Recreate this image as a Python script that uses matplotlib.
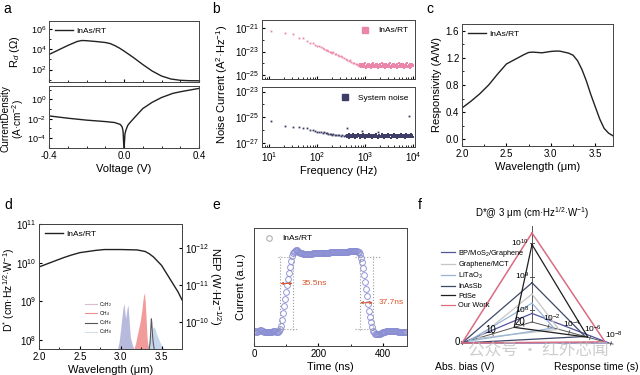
import numpy as np
import matplotlib
matplotlib.use("Agg")
import matplotlib.pyplot as plt
from matplotlib.ticker import LogLocator, NullFormatter, MultipleLocator
from matplotlib.lines import Line2D

plt.rcParams['font.family'] = ['Liberation Sans', 'DejaVu Sans']
plt.rcParams['mathtext.fontset'] = 'custom'
plt.rcParams['mathtext.rm'] = 'Liberation Sans'
plt.rcParams['mathtext.it'] = 'Liberation Sans:italic'
plt.rcParams['mathtext.bf'] = 'Liberation Sans:bold'
plt.rcParams['xtick.direction'] = 'in'
plt.rcParams['ytick.direction'] = 'in'
plt.rcParams['axes.linewidth'] = 0.7
plt.rcParams['axes.edgecolor'] = '#444444'
plt.rcParams['xtick.labelsize'] = 7
plt.rcParams['ytick.labelsize'] = 7
plt.rcParams['xtick.major.size'] = 2.5
plt.rcParams['ytick.major.size'] = 2.5
plt.rcParams['xtick.minor.size'] = 1.5
plt.rcParams['ytick.minor.size'] = 1.5
plt.rcParams['xtick.major.pad'] = 2
plt.rcParams['ytick.major.pad'] = 2

# ---------------- data ----------------
# (a) differential resistance and current density vs voltage
V_rd = [-0.4, -0.35, -0.3, -0.25, -0.225, -0.2, -0.15, -0.1, -0.075, -0.05, -0.025, 0.0,
        0.05, 0.1, 0.15, 0.2, 0.25, 0.3, 0.35, 0.4]
logRd = [3.5, 3.95, 4.4, 4.8, 4.9, 4.88, 4.8, 4.7, 4.6, 4.4, 4.15, 3.85,
         3.2, 2.5, 1.85, 1.35, 1.05, 0.92, 0.88, 0.87]
V_j = [-0.4, -0.3, -0.2, -0.1, -0.05, -0.02, -0.01, -0.005, 0.0, 0.005, 0.01, 0.02,
       0.03, 0.06, 0.1, 0.15, 0.2, 0.26, 0.3, 0.4]
logJ = [-1.71, -1.95, -2.15, -2.3, -2.4, -2.6, -2.85, -3.3, -5.3, -3.6, -3.2, -2.7,
        -2.45, -1.8, -0.95, -0.3, 0.2, 0.63, 0.8, 1.15]

# (b) noise spectra
f_low = [11, 21, 31, 41, 51, 61, 71, 81, 91, 101, 111, 121, 131, 141, 151, 161, 171, 181, 191,
         201, 211, 231, 251, 271, 291, 311, 331, 361, 391, 421, 451, 481, 511, 551, 591, 631,
         671, 711, 751]
noise_dev_low = [-21.2, -21.45, -21.5, -21.8, -21.85, -22.1, -22.3, -22.25, -22.4, -22.5, -22.55,
                 -22.6, -22.7, -22.75, -22.85, -22.9, -22.95, -23.0, -23.05, -23.1, -23.05, -23.2,
                 -23.25, -23.3, -23.4, -23.35, -23.5, -23.55, -23.6, -23.7, -23.8, -23.75, -23.9,
                 -23.95, -24.0, -24.1, -24.05, -24.15, -24.2]
noise_dev_floor = [
    -24.2, -24.1, -24.3, -24.15, -24.25, -24.05, -24.35, -24.2, -24.1, -24.3,
    -24.25, -24.0, -24.2, -24.4, -24.15, -24.25, -24.1, -24.3, -24.2, -24.05,
    -24.35, -24.15, -24.25, -24.2, -24.4, -24.1, -24.2, -24.3, -24.0, -24.25,
    -24.15, -24.35, -24.2, -24.1, -24.3, -24.25, -24.05, -24.2, -24.45, -24.15,
    -24.3, -24.2, -24.1, -24.25, -24.35, -24.0, -24.2, -24.3, -24.15, -24.25,
    -24.1, -24.4, -24.2, -24.3, -24.05, -24.25, -24.15, -24.35, -24.2, -24.1,
    -24.3, -24.2, -24.0, -24.25, -24.4, -24.15, -24.2, -24.3, -24.1, -24.25,
    -24.35, -24.05, -24.2, -24.3, -24.15, -24.25, -24.1, -24.4, -24.2, -24.3,
    -24.0, -24.25, -24.15, -24.35, -24.2, -24.1, -24.3, -24.25, -24.05, -24.2,
    -24.4, -24.15, -24.3, -24.2, -24.1, -24.25, -24.35, -24.0, -24.2, -24.3,
    -24.15, -24.25, -24.1, -24.4, -24.2, -24.3, -24.05, -24.25, -24.15, -24.2]
f_sys_low = [11, 21, 31, 41, 51, 61, 71, 81, 91, 101, 111, 121, 131, 141, 151, 161, 171, 181, 191,
             201, 211, 231, 251, 271, 291, 311, 331, 361, 391]
noise_sys_low = [-25.3, -25.65, -25.72, -25.78, -25.85, -25.85, -25.95, -25.95, -26.05, -26.1,
                 -26.1, -26.15, -26.2, -26.15, -26.25, -26.25, -26.3, -26.3, -26.3, -26.35,
                 -26.3, -26.35, -26.4, -26.35, -26.4, -26.45, -26.4, -26.45, -26.4]
noise_sys_floor = [
    -26.45, -26.35, -26.55, -26.4, -26.5, -26.3, -26.6, -26.45, -26.35, -26.5,
    -26.55, -26.4, -26.45, -26.3, -26.5, -26.6, -26.4, -26.45, -26.35, -26.55,
    -26.5, -26.4, -26.3, -26.45, -26.6, -26.35, -26.5, -26.45, -26.4, -26.55,
    -26.3, -26.45, -26.5, -26.4, -26.6, -26.35, -26.45, -26.55, -26.4, -26.5,
    -26.45, -26.3, -26.55, -26.4, -26.5, -26.35, -26.6, -26.45, -26.4, -26.5,
    -26.35, -26.55, -26.45, -26.4, -26.3, -26.5, -26.45, -26.6, -26.4, -26.35,
    -26.5, -26.45, -26.55, -26.3, -26.4, -26.5, -26.45, -26.35, -26.6, -26.4,
    -26.45, -26.5, -26.35, -26.55, -26.4, -26.3, -26.5, -26.45, -26.4, -26.6,
    -26.35, -26.45, -26.5, -26.4, -26.55, -26.3, -26.45, -26.5, -26.4, -26.35,
    -26.6, -26.45, -26.4, -26.5, -26.35, -26.55, -26.45, -26.3, -26.5, -26.4,
    -26.45, -26.55, -26.35, -26.5, -26.4, -26.6, -26.45, -26.3, -26.5, -26.4,
    -26.35, -26.55, -26.45, -26.4, -26.5, -26.3, -26.45, -26.55, -26.4, -26.5]
f_sys_out = [411, 870, 1900, 8100]
noise_sys_out = [-25.85, -26.05, -26.15, -24.9]

# (c) responsivity
lam_r = [2.0, 2.1, 2.2, 2.3, 2.4, 2.5, 2.6, 2.7, 2.75, 2.8, 2.9, 3.0, 3.05, 3.1, 3.2, 3.25,
         3.3, 3.35, 3.4, 3.45, 3.5, 3.55, 3.6, 3.65, 3.7]
resp = [0.46, 0.56, 0.67, 0.8, 0.96, 1.11, 1.18, 1.25, 1.28, 1.285, 1.275, 1.295, 1.3, 1.3,
        1.27, 1.24, 1.16, 1.03, 0.86, 0.66, 0.48, 0.3, 0.16, 0.09, 0.05]

# (d) detectivity and gas absorption
lam_d = [2.0, 2.1, 2.2, 2.3, 2.4, 2.5, 2.6, 2.7, 2.8, 3.0, 3.2, 3.3, 3.35, 3.4, 3.5, 3.6, 3.7, 3.75]
logDstar = [9.89, 9.97, 10.05, 10.13, 10.2, 10.26, 10.29, 10.32, 10.34, 10.34, 10.33, 10.29,
            10.23, 10.15, 9.93, 9.59, 9.25, 9.04]
lam_c2h2 = [2.96, 2.98, 3.0, 3.02, 3.03, 3.04, 3.05, 3.06, 3.07, 3.08, 3.09, 3.1, 3.11, 3.12, 3.14, 3.16]
abs_c2h2 = [7.77, 7.95, 8.3, 8.7, 8.85, 8.95, 8.75, 8.55, 8.7, 8.85, 8.9, 8.6, 8.3, 8.05, 7.9, 7.77]
lam_ch4 = [3.16, 3.18, 3.2, 3.22, 3.24, 3.25, 3.26, 3.27, 3.28, 3.29, 3.3, 3.31, 3.32, 3.33, 3.34]
abs_ch4 = [7.77, 7.9, 8.1, 8.3, 8.5, 8.65, 8.8, 9.0, 9.15, 9.22, 9.0, 8.6, 8.15, 7.9, 7.77]
lam_c2h6 = [3.35, 3.36, 3.37, 3.375, 3.38, 3.39, 3.4, 3.41]
abs_c2h6 = [7.77, 7.95, 8.35, 8.55, 8.45, 8.1, 7.9, 7.77]
lam_c3h8 = [3.32, 3.35, 3.38, 3.4, 3.42, 3.44, 3.46, 3.48, 3.5, 3.53]
abs_c3h8 = [7.77, 8.0, 8.25, 8.35, 8.3, 8.15, 8.05, 7.95, 7.85, 7.77]
gas_names = ['C$_2$H$_2$', 'CH$_4$', 'C$_2$H$_6$', 'C$_3$H$_8$']

# (e) transient response (sampled every 3 ns)
t_step = 3
cur = [0.125, 0.125, 0.12, 0.12, 0.125, 0.13, 0.135, 0.135, 0.13, 0.125, 0.12, 0.115, 0.115, 0.115,
       0.115, 0.115, 0.115, 0.12, 0.12, 0.12, 0.125, 0.125, 0.125, 0.12, 0.12, 0.12, 0.125,
       0.14, 0.17, 0.22, 0.28, 0.34, 0.40, 0.46, 0.52, 0.57, 0.62, 0.67, 0.72, 0.76, 0.785, 0.80,
       0.805, 0.81, 0.81, 0.805, 0.80, 0.795, 0.79, 0.785, 0.785, 0.78, 0.78, 0.78, 0.78, 0.78,
       0.78, 0.78, 0.78, 0.782, 0.783, 0.785, 0.785, 0.785, 0.785, 0.787, 0.787, 0.787, 0.787,
       0.788, 0.79, 0.79, 0.79, 0.79, 0.79, 0.792, 0.792, 0.792, 0.792, 0.793, 0.793, 0.793,
       0.794, 0.795, 0.795, 0.795, 0.796, 0.796, 0.797, 0.797, 0.798, 0.798, 0.798, 0.798, 0.8,
       0.8, 0.8, 0.8, 0.802, 0.803, 0.805, 0.806, 0.806, 0.807, 0.807, 0.806, 0.805, 0.803, 0.8,
       0.795,
       0.78, 0.75, 0.71, 0.66, 0.60, 0.54, 0.48, 0.42, 0.36, 0.30, 0.25, 0.20, 0.16, 0.13, 0.115,
       0.105, 0.10, 0.10, 0.10, 0.105, 0.105, 0.11, 0.11, 0.115, 0.115, 0.12, 0.12, 0.125, 0.125,
       0.13, 0.13, 0.13, 0.13, 0.13, 0.13, 0.13, 0.13, 0.13, 0.125, 0.12, 0.12, 0.115, 0.115,
       0.115, 0.115, 0.115, 0.12, 0.12]
rise_t = [82, 120]
fall_t = [330, 369]
lvl_lo, lvl_hi = 0.147, 0.755
rise_ns, fall_ns = 35.5, 37.7

# (f) comparison (D* at 3 um, abs. bias V, response time s)
mat_names = ['BP/MoS$_2$/Graphene', 'Graphene/MCT', 'LiTaO$_3$', 'InAsSb', 'PdSe', 'Our Work']
mat_colors = ['#55559e', '#c6c6c6', '#96b6d6', '#3e4868', '#1e1e1e', '#d96c80']
mat_D = [7.9e7, 3.0e8, 1.6e8, 6.5e8, 9.0e9, 2.0e10]
mat_bias = [0.0, 5.0, 2.0, 0.0, 17.0, 0.0]
mat_time = [1.6e-8, 1e-3, 3e-3, 3e-6, 1.6e-6, 3.7e-8]

# ---------------- figure ----------------
fig = plt.figure(figsize=(6.4, 3.75), dpi=100)
W, H = 640.0, 375.0


def box(x0, y0, x1, y1):
    return [x0 / W, 1 - y1 / H, (x1 - x0) / W, (y1 - y0) / H]


def letter(x, y, s):
    fig.text(x / W, 1 - y / H, s, fontsize=10, ha='left', va='center')


def logminor(axis):
    axis.set_minor_locator(LogLocator(base=10, subs=(1.0,), numticks=30))
    axis.set_minor_formatter(NullFormatter())


line_c = '#222222'

# ---- a ----
axa1 = fig.add_axes(box(49, 21, 199, 82))
axa2 = fig.add_axes(box(49, 86, 199, 148))
axa1.plot(V_rd, 10 ** np.array(logRd), color=line_c, lw=1.0, label='InAs/RT')
axa1.set_yscale('log')
axa1.set_ylim(10 ** 0.75, 10 ** 6.85)
axa1.set_yticks([1e2, 1e4, 1e6])
logminor(axa1.yaxis)
axa1.set_xlim(-0.4, 0.4)
axa1.xaxis.set_major_locator(MultipleLocator(0.4))
axa1.xaxis.set_minor_locator(MultipleLocator(0.1))
axa1.tick_params(labelbottom=False)
axa1.tick_params(axis='y', labelsize=6.5)
axa1.set_ylabel('R$_d$ (Ω)', fontsize=8)
axa1.yaxis.set_label_coords(-0.18, 0.5)
axa1.legend(loc='upper left', fontsize=6, frameon=False, handlelength=2.2,
            borderaxespad=0.3, handletextpad=0.4)
axa2.plot(V_j, 10 ** np.array(logJ), color=line_c, lw=1.0)
axa2.set_yscale('log')
axa2.set_ylim(10 ** -5.05, 10 ** 1.4)
axa2.set_yticks([1e-4, 1e-2, 1e0])
logminor(axa2.yaxis)
axa2.tick_params(axis='y', labelsize=6.5)
axa2.set_xlim(-0.4, 0.4)
axa2.set_xticks([-0.4, 0.0, 0.4])
axa2.set_xticklabels(['-0.4', '0.0', '0.4'])
axa2.xaxis.set_minor_locator(MultipleLocator(0.1))
axa2.set_xlabel('Voltage (V)', fontsize=8, labelpad=2)
axa2.set_ylabel('CurrentDensity\n(A·cm$^{-2}$)', fontsize=7.2, linespacing=1.0)
axa2.yaxis.set_label_coords(-0.15, 0.47)
letter(3, 9, 'a')

# ---- b ----
pink = '#eb86ab'
navy = '#3d3d66'
axb1 = fig.add_axes(box(262, 20, 415, 79))
axb2 = fig.add_axes(box(262, 87, 415, 147))
f_floor = np.geomspace(770, 10000, len(noise_dev_floor))
axb1.plot(f_low, 10 ** np.array(noise_dev_low), 's', ms=1.3, color=pink, mew=0)
axb1.plot(f_floor, 10 ** np.array(noise_dev_floor), 's', ms=1.9, color=pink, mew=0)
axb1.set_xscale('log')
axb1.set_yscale('log')
axb1.set_xlim(7, 11000)
axb1.set_ylim(10 ** -25.35, 10 ** -20.3)
axb1.set_yticks([1e-25, 1e-23, 1e-21])
logminor(axb1.yaxis)
axb1.tick_params(labelbottom=False)
axb1.legend(handles=[Line2D([], [], ls='none', marker='s', ms=5, color=pink)], labels=['InAs/RT'],
            loc='upper right', fontsize=6, frameon=False, handletextpad=0.6, borderaxespad=0.4)
f_sfloor = np.geomspace(400, 10000, len(noise_sys_floor))
axb2.plot(f_sys_low, 10 ** np.array(noise_sys_low), 's', ms=1.3, color=navy, mew=0)
axb2.plot(f_sfloor, 10 ** np.array(noise_sys_floor), 's', ms=1.9, color=navy, mew=0)
axb2.plot(f_sys_out, 10 ** np.array(noise_sys_out), 's', ms=1.3, color=navy, mew=0)
axb2.set_xscale('log')
axb2.set_yscale('log')
axb2.set_xlim(7, 11000)
axb2.set_ylim(10 ** -27.3, 10 ** -22.65)
axb2.set_yticks([1e-27, 1e-25, 1e-23])
logminor(axb2.yaxis)
axb2.set_xticks([1e1, 1e2, 1e3, 1e4])
axb2.set_xlabel('Frequency (Hz)', fontsize=8, labelpad=2)
axb2.legend(handles=[Line2D([], [], ls='none', marker='s', ms=5, color=navy)], labels=['System noise'],
            loc='upper right', fontsize=6, frameon=False, handletextpad=0.6, borderaxespad=0.4)
fig.text(222 / W, 1 - 84 / H, 'Noise Current (A$^2$·Hz$^{-1}$)', rotation=90, fontsize=8,
         ha='center', va='center')
letter(212, 9, 'b')

# ---- c ----
axc = fig.add_axes(box(462, 24, 613, 146))
axc.plot(lam_r, resp, color=line_c, lw=1.0, label='InAs/RT')
axc.set_xlim(2.0, 3.7)
axc.set_ylim(-0.1, 1.7)
axc.set_xticks([2.0, 2.5, 3.0, 3.5])
axc.xaxis.set_minor_locator(MultipleLocator(0.25))
axc.set_yticks([0.0, 0.4, 0.8, 1.2, 1.6])
axc.yaxis.set_minor_locator(MultipleLocator(0.2))
axc.set_xlabel('Wavelength (μm)', fontsize=8, labelpad=2)
axc.set_ylabel('Responsivity (A/W)', fontsize=8, labelpad=3)
axc.legend(loc='upper left', fontsize=6, frameon=False, handlelength=2.2, borderaxespad=0.3,
           handletextpad=0.4)
letter(426, 9, 'c')

# ---- d ----
axd = fig.add_axes(box(39, 224, 182, 349))
gas_fill = ['#abaed6', '#f08a8a', '#5a5a5a', '#bcd0ea']
gas_line = ['#d8bcd0', '#e99090', '#555555', '#d6dde6']
base = 10 ** 7.77
for lam, ab, fc in [(lam_c2h2, abs_c2h2, gas_fill[0]), (lam_c3h8, abs_c3h8, gas_fill[3]),
                    (lam_ch4, abs_ch4, gas_fill[1])]:
    axd.fill_between(lam, base, 10 ** np.array(ab), color=fc, alpha=0.85, lw=0)
axd.plot(lam_c2h6, 10 ** np.array(abs_c2h6), color=gas_fill[2], lw=0.8)
axd.plot(lam_d, 10 ** np.array(logDstar), color=line_c, lw=1.0)
axd.set_yscale('log')
axd.set_xlim(2.0, 3.75)
axd.set_ylim(10 ** 7.77, 1e11)
axd.set_yticks([1e8, 1e9, 1e10, 1e11])
logminor(axd.yaxis)
axd.set_xticks([2.0, 2.5, 3.0, 3.5])
axd.xaxis.set_minor_locator(MultipleLocator(0.25))
axd.set_xlabel('Wavelength (μm)', fontsize=8, labelpad=2)
axd.set_ylabel('D$^{*}$ (cm·Hz$^{1/2}$·W$^{-1}$)', fontsize=7.5)
axd.yaxis.set_label_coords(-0.155, 0.47)
leg1 = axd.legend(handles=[Line2D([], [], color=line_c, lw=1.0)], labels=['InAs/RT'],
                  loc='upper left', fontsize=6, frameon=False, handlelength=2.2,
                  borderaxespad=0.3, handletextpad=0.4)
axd.add_artist(leg1)
axd.legend(handles=[Line2D([], [], color=c, lw=0.8) for c in gas_line], labels=gas_names,
           loc='upper left', bbox_to_anchor=(0.31, 0.41), fontsize=3.5, frameon=False,
           handlelength=2.4, labelspacing=0.08, handletextpad=0.4, borderaxespad=0)
axd2 = axd.twinx()
axd2.set_yscale('log')
axd2.set_ylim(10 ** -9.27, 10 ** -12.65)
axd2.set_yticks([1e-12, 1e-11, 1e-10])
logminor(axd2.yaxis)
axd2.tick_params(axis='y', which='both', direction='in')
axd2.set_ylabel('NEP (W·Hz$^{-1/2}$)', fontsize=8, rotation=270, labelpad=10)
letter(4, 205, 'd')

# ---- e ----
axe = fig.add_axes(box(254, 228, 407, 346))
t = t_step * np.arange(len(cur))
axe.plot(t, cur, 'o', ms=4.2, mfc='none', mec='#8a8ed2', mew=0.7, alpha=0.9)
for tx in rise_t + fall_t:
    axe.plot([tx, tx], [lvl_lo - 0.01, lvl_hi + 0.01], ls=':', color='#9a9a9a', lw=0.8)
for x0, x1 in [(rise_t[0] - 8, rise_t[1] + 2), (fall_t[0] - 15, fall_t[1] + 23)]:
    axe.plot([x0, x1], [lvl_hi, lvl_hi], ls=':', color='#9a9a9a', lw=0.8)
for x0, x1 in [(rise_t[0] - 8, rise_t[1] + 15), (fall_t[0] - 15, fall_t[1] + 7)]:
    axe.plot([x0, x1], [lvl_lo, lvl_lo], ls=':', color='#9a9a9a', lw=0.8)
red = '#d8552c'
axe.annotate('', xy=(rise_t[1], 0.53), xytext=(rise_t[0], 0.53),
             arrowprops=dict(arrowstyle='<->', color=red, lw=0.7, mutation_scale=4,
                             shrinkA=0, shrinkB=0))
axe.annotate('', xy=(fall_t[1], 0.367), xytext=(fall_t[0], 0.367),
             arrowprops=dict(arrowstyle='<->', color=red, lw=0.7, mutation_scale=4,
                             shrinkA=0, shrinkB=0))
axe.text(rise_t[1] + 28, 0.53, '%.1fns' % rise_ns, color=red, fontsize=6, ha='left', va='center')
axe.text(fall_t[1] + 18, 0.367, '%.1fns' % fall_ns, color=red, fontsize=6, ha='left', va='center')
axe.set_xlim(0, 475)
axe.set_ylim(0, 1)
axe.set_xticks([0, 200, 400])
axe.xaxis.set_minor_locator(MultipleLocator(100))
axe.set_yticks([])
axe.set_xlabel('Time (ns)', fontsize=8, labelpad=2)
axe.set_ylabel('Current (a.u.)', fontsize=8, labelpad=6)
axe.legend(handles=[Line2D([], [], ls='none', marker='o', ms=4, mfc='none', mec='#b0b0b0', mew=0.8)],
           labels=['InAs/RT'], loc='upper left', fontsize=6, frameon=False, handletextpad=0.6,
           borderaxespad=0.4)
letter(212, 205, 'e')

# ---- f ----
axf = fig.add_axes(box(420, 200, 640, 375))
axf.set_xlim(420, 640)
axf.set_ylim(375, 200)
axf.axis('off')
cx, cy = 532.0, 322.0
uD = np.array([0.0, -1.0])
uB = np.array([-70.0, 21.0]); uB /= np.hypot(*uB)
uT = np.array([77.0, 21.0]); uT /= np.hypot(*uT)


def rD(d):
    return 12 + (np.log10(d) - 8) * 33.5


def rB(b):
    return 73 - 3.2 * b


def rT(s):
    return 17 + (-2 - np.log10(s)) * 10.8


def pt(u, r):
    return cx + u[0] * r, cy + u[1] * r


axis_c = '#555555'
for u, rmax in [(uD, 96), (uB, 74), (uT, 84)]:
    x1, y1 = pt(u, rmax)
    axf.plot([cx, x1], [cy, y1], color=axis_c, lw=0.7)
tk = 1.6
for d, lab in [(1e8, '10$^8$'), (1e9, '10$^9$'), (1e10, '10$^{10}$')]:
    x, y = pt(uD, rD(d))
    axf.plot([x - tk, x + tk], [y, y], color=axis_c, lw=0.7)
    axf.text(x - 3, y, lab, fontsize=6, ha='right', va='center')
for b, lab, dx, dy in [(20, '20', -3, -3), (10, '10', -2, -4), (0, '0', -5, -1)]:
    x, y = pt(uB, rB(b))
    axf.plot([x - uB[1] * tk, x + uB[1] * tk], [y + uB[0] * tk, y - uB[0] * tk], color=axis_c, lw=0.7)
    axf.text(x + dx, y + dy, lab, fontsize=7, ha='center', va='center')
for s, lab in [(1e-2, '10$^{-2}$'), (1e-4, '10$^{-4}$'), (1e-6, '10$^{-6}$'), (1e-8, '10$^{-8}$')]:
    x, y = pt(uT, rT(s))
    axf.plot([x - uT[1] * tk, x + uT[1] * tk], [y + uT[0] * tk, y - uT[0] * tk], color=axis_c, lw=0.7)
    axf.text(x + 3, y - 2.5, lab, fontsize=6, ha='center', va='bottom')
handles = []
for name, col, d, b, s in zip(mat_names, mat_colors, mat_D, mat_bias, mat_time):
    p1 = pt(uD, rD(d)); p2 = pt(uB, rB(b)); p3 = pt(uT, rT(s))
    xs = [p1[0], p2[0], p3[0], p1[0]]
    ys = [p1[1], p2[1], p3[1], p1[1]]
    lw = 1.1 if name == 'Our Work' else 0.9
    axf.plot(xs, ys, color=col, lw=lw, solid_joinstyle='miter')
    handles.append(Line2D([], [], color=col, lw=0.9))
axf.legend(handles=handles, labels=mat_names, loc='upper left', bbox_to_anchor=(0.08, 0.745),
           fontsize=5.3, frameon=False, handlelength=2.0, labelspacing=0.32, handletextpad=0.4,
           borderaxespad=0)
axf.text(cx, 213, 'D*@ 3 μm (cm·Hz$^{1/2}$·W$^{-1}$)', fontsize=7, ha='center', va='center')
axf.text(465, 367, 'Abs. bias (V)', fontsize=7.5, ha='center', va='center')
axf.text(596, 367, 'Response time (s)', fontsize=7.5, ha='center', va='center')
axf.text(538, 350, '公众号 · 红外芯闻', fontsize=12, ha='center', va='center', color='#bdbdbd',
         alpha=0.75, family=['Noto Sans CJK SC', 'DejaVu Sans'])
letter(418, 205, 'f')

fig.savefig('out.png', dpi=100)
